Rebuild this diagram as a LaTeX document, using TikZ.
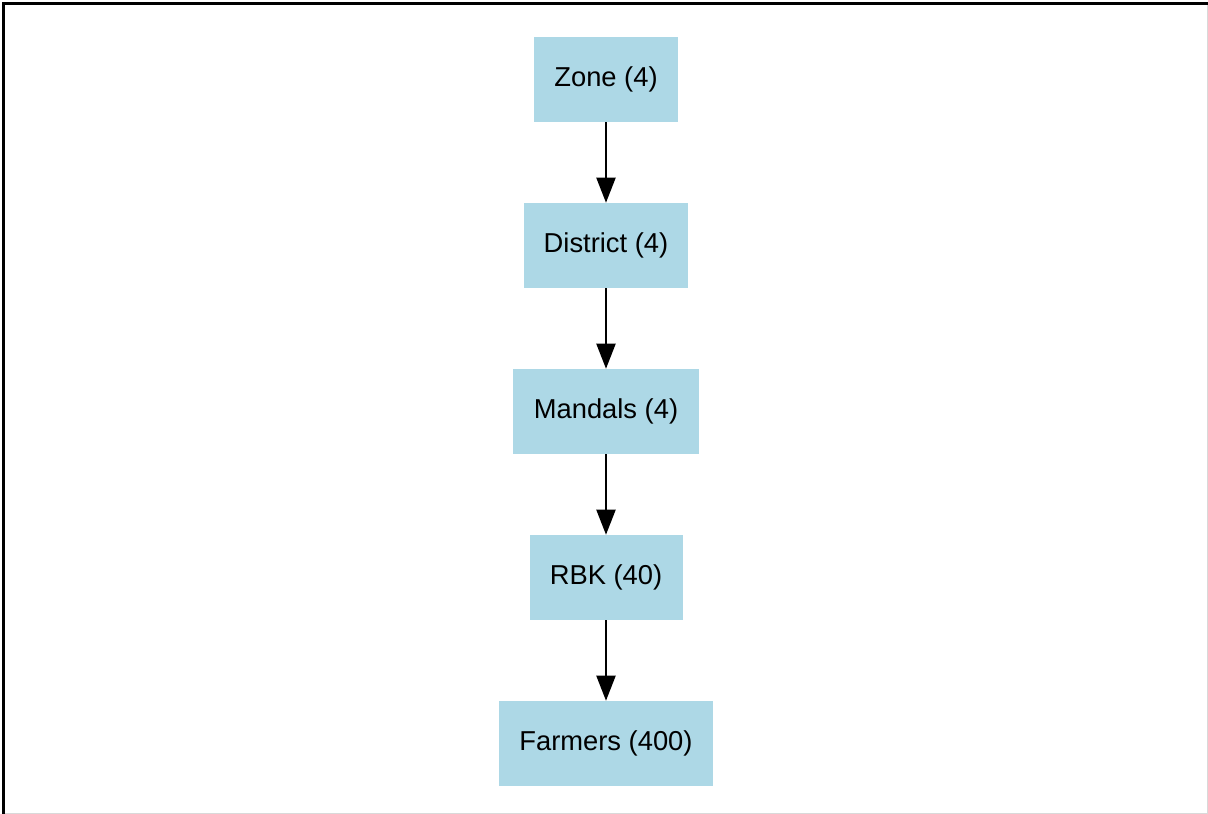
\documentclass[tikz,border=0pt]{standalone}
\usepackage{fontspec}
\setmainfont{Liberation Sans}
\usetikzlibrary{arrows.meta}
\definecolor{lightblue}{HTML}{ADD8E6}
\tikzset{
  box/.style={fill=lightblue, draw=none, inner sep=0pt, minimum height=85*0.75pt, font=\fontsize{20.5pt}{24pt}\selectfont},
  link/.style={line width=1.5pt, -{Triangle[length=25*0.75pt, width=19*0.75pt]}, shorten >=0pt},
}
\begin{document}
\begin{tikzpicture}[x=0.75pt, y=-0.75pt]
\useasboundingbox (0,0) rectangle (1208,814);
\fill[white] (0,0) rectangle (1208,814);
\draw[line width=0.75pt, gray!30] (1207,3) -- (1207,813.5) -- (3,813.5);
\draw[line width=2.25pt, black] (3,814) -- (3,3) -- (1208,3);
\node[box, minimum width=144*0.75pt] (zone) at (606,79.5) {Zone (4)};
\node[box, minimum width=164*0.75pt] (district) at (606,245.5) {District (4)};
\node[box, minimum width=186*0.75pt] (mandals) at (606,411.5) {Mandals (4)};
\node[box, minimum width=153*0.75pt] (rbk) at (606,577.5) {RBK (40)};
\node[box, minimum width=214*0.75pt] (farmers) at (606,743.5) {Farmers (400)};
\draw[link] (zone) -- (district);
\draw[link] (district) -- (mandals);
\draw[link] (mandals) -- (rbk);
\draw[link] (rbk) -- (farmers);
\end{tikzpicture}
\end{document}
